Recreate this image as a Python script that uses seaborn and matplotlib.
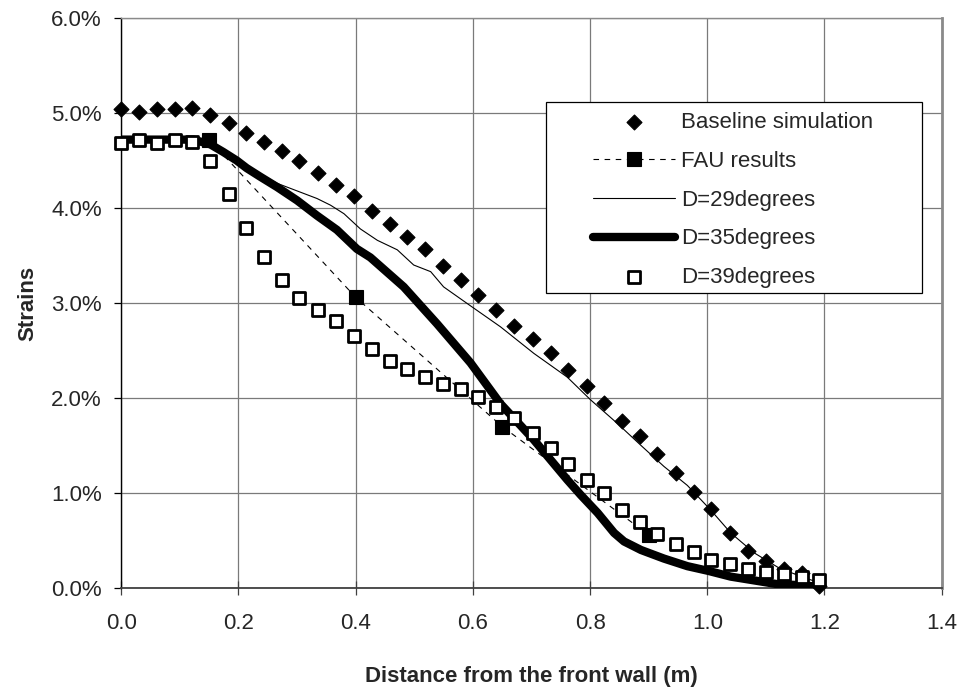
import matplotlib
matplotlib.use("Agg")
import matplotlib.pyplot as plt
from matplotlib.patches import Rectangle
from matplotlib.ticker import FuncFormatter
import seaborn as sns
import pandas as pd

# ---------------- data (strain in %) ----------------
base_x = [0.000, 0.030, 0.061, 0.091, 0.120, 0.152, 0.183, 0.213, 0.243, 0.274,
          0.304, 0.335, 0.366, 0.397, 0.427, 0.458, 0.488, 0.518, 0.549, 0.579,
          0.609, 0.640, 0.671, 0.702, 0.733, 0.763, 0.794, 0.824, 0.854, 0.885,
          0.915, 0.947, 0.977, 1.007, 1.038, 1.069, 1.100, 1.131, 1.161, 1.191]
base_y = [5.04, 5.01, 5.04, 5.04, 5.05, 4.98, 4.89, 4.79, 4.69, 4.60,
          4.49, 4.37, 4.24, 4.13, 3.97, 3.83, 3.70, 3.57, 3.39, 3.24,
          3.08, 2.93, 2.76, 2.62, 2.47, 2.29, 2.13, 1.95, 1.76, 1.60,
          1.41, 1.21, 1.01, 0.83, 0.58, 0.39, 0.28, 0.20, 0.16, 0.02]

d39_x = base_x
d39_y = [4.68, 4.72, 4.68, 4.72, 4.69, 4.49, 4.15, 3.79, 3.48, 3.24,
         3.05, 2.93, 2.81, 2.65, 2.52, 2.39, 2.31, 2.22, 2.15, 2.09,
         2.01, 1.91, 1.79, 1.63, 1.47, 1.31, 1.14, 1.00, 0.82, 0.69,
         0.57, 0.46, 0.38, 0.30, 0.25, 0.20, 0.17, 0.15, 0.12, 0.08]

fau_x = [0.15, 0.40, 0.65, 0.90]
fau_y = [4.72, 3.06, 1.70, 0.56]

d29_x = [0.000, 0.066, 0.123, 0.152, 0.174, 0.197, 0.231, 0.266, 0.300, 0.334,
         0.357, 0.380, 0.408, 0.437, 0.471, 0.499, 0.528, 0.550, 0.596, 0.647,
         0.704, 0.761, 0.801, 0.847, 0.887, 0.926, 0.966, 1.006, 1.040, 1.080,
         1.120, 1.160, 1.194]
d29_y = [4.72, 4.72, 4.72, 4.67, 4.59, 4.51, 4.38, 4.26, 4.18, 4.10,
         4.03, 3.94, 3.78, 3.66, 3.56, 3.40, 3.33, 3.17, 2.97, 2.75,
         2.47, 2.22, 1.98, 1.73, 1.50, 1.28, 1.08, 0.82, 0.58, 0.37,
         0.22, 0.12, 0.05]

d35_x = [0.000, 0.066, 0.123, 0.152, 0.174, 0.197, 0.214, 0.237, 0.266, 0.300,
         0.334, 0.368, 0.402, 0.425, 0.482, 0.539, 0.596, 0.647, 0.704, 0.761,
         0.784, 0.813, 0.841, 0.858, 0.887, 0.926, 0.966, 1.002, 1.040, 1.080,
         1.120, 1.160, 1.194]
d35_y = [4.72, 4.72, 4.72, 4.67, 4.59, 4.50, 4.42, 4.33, 4.22, 4.08,
         3.92, 3.77, 3.57, 3.48, 3.17, 2.78, 2.37, 1.94, 1.56, 1.14,
         0.98, 0.79, 0.58, 0.49, 0.40, 0.31, 0.23, 0.18, 0.12, 0.08,
         0.04, 0.03, 0.01]

labels = ["Baseline simulation", "FAU results", "D=29degrees",
          "D=35degrees", "D=39degrees"]
x_ticks = [0.0, 0.2, 0.4, 0.6, 0.8, 1.0, 1.2, 1.4]
y_ticks = [0.0, 1.0, 2.0, 3.0, 4.0, 5.0, 6.0]

# ---------------- style ----------------
sns.set_style("white")
plt.rcParams["font.family"] = ["Liberation Sans", "DejaVu Sans"]
FS = 16

fig = plt.figure(figsize=(9.61, 6.90), dpi=100)
ax = fig.add_axes([0.1262, 0.1478, 0.8537, 0.8261])

df_base = pd.DataFrame({"x": base_x, "y": base_y})
df_fau = pd.DataFrame({"x": fau_x, "y": fau_y})
df_29 = pd.DataFrame({"x": d29_x, "y": d29_y})
df_35 = pd.DataFrame({"x": d35_x, "y": d35_y})
df_39 = pd.DataFrame({"x": d39_x, "y": d39_y})

sns.scatterplot(data=df_base, x="x", y="y", marker="D", s=58, color="black",
                edgecolor="black", linewidth=0.8, label=labels[0], ax=ax,
                zorder=3, clip_on=False)
sns.lineplot(data=df_fau, x="x", y="y", color="black", linewidth=0.8,
             linestyle=(0, (5, 5)), marker="s", markersize=9.5,
             markerfacecolor="black", markeredgecolor="black",
             markeredgewidth=0.8, label=labels[1], ax=ax, zorder=4)
sns.lineplot(data=df_29, x="x", y="y", color="black", linewidth=0.8,
             label=labels[2], ax=ax, zorder=5)
sns.lineplot(data=df_35, x="x", y="y", color="black", linewidth=6,
             solid_capstyle="round", label=labels[3], ax=ax, zorder=6)
sns.scatterplot(data=df_39, x="x", y="y", marker="s", s=78, color="white",
                edgecolor="black", linewidth=2.0, label=labels[4], ax=ax,
                zorder=7, clip_on=False)

ax.set_xlim(0, 1.4)
ax.set_ylim(0, 6.0)
ax.set_xticks(x_ticks)
ax.set_yticks(y_ticks)
ax.xaxis.set_major_formatter(FuncFormatter(lambda v, p: f"{v:.1f}"))
ax.yaxis.set_major_formatter(FuncFormatter(lambda v, p: f"{v:.1f}%"))
ax.grid(True, color="#7a7a7a", linewidth=0.9)
ax.set_axisbelow(True)

for side in ["top", "right"]:
    ax.spines[side].set_color("#8a8a8a")
    ax.spines[side].set_linewidth(1.0)
ax.spines["right"].set_linewidth(2.0)
ax.spines["left"].set_color("black")
ax.spines["left"].set_linewidth(1.0)
ax.spines["bottom"].set_color("#404040")
ax.spines["bottom"].set_linewidth(1.3)

ax.tick_params(axis="x", direction="inout", length=10, width=0.9, color="#404040",
               labelsize=FS, pad=13, bottom=True)
ax.tick_params(axis="y", direction="out", length=5, width=0.9, color="black",
               labelsize=FS, pad=9, left=True)

ax.set_xlabel("Distance from the front wall (m)", fontsize=FS, fontweight="bold",
              labelpad=23)
ax.set_ylabel("Strains", fontsize=FS, fontweight="bold", labelpad=9)

# legend frame
ax.add_patch(Rectangle((0.5177, 0.517), 0.4583, 0.335, transform=ax.transAxes,
                       facecolor="white", edgecolor="black", linewidth=0.9,
                       zorder=10, clip_on=False))

handles, labs = ax.get_legend_handles_labels()
order = [labs.index(l) for l in labels]
leg = ax.legend([handles[i] for i in order], [labs[i] for i in order],
                loc="upper left", bbox_to_anchor=(0.575, 0.835),
                frameon=False, fontsize=FS, borderpad=0, borderaxespad=0,
                handlelength=3.7, handletextpad=0.25, labelspacing=0.80,
                scatterpoints=1)
leg.set_zorder(11)

fig.savefig("out.png", dpi=100)
